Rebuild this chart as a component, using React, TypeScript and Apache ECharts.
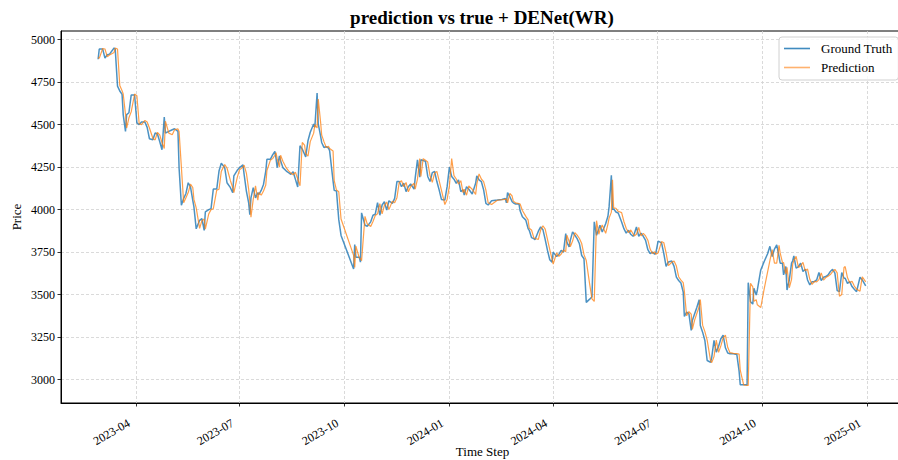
import React, { useEffect, useRef } from "react";
import * as echarts from "echarts";

const dates: string[] = [
  "2023-02-27","2023-02-28","2023-03-03","2023-03-05","2023-03-07","2023-03-09","2023-03-13","2023-03-14","2023-03-16","2023-03-18","2023-03-20","2023-03-21","2023-03-23","2023-03-24","2023-03-26","2023-03-28","2023-03-31",
  "2023-04-02","2023-04-04","2023-04-06","2023-04-09","2023-04-11","2023-04-13","2023-04-16","2023-04-18","2023-04-20","2023-04-22","2023-04-24","2023-04-26","2023-04-27","2023-04-30",
  "2023-05-03","2023-05-05","2023-05-08","2023-05-09","2023-05-11","2023-05-13","2023-05-15","2023-05-17","2023-05-19","2023-05-21","2023-05-22","2023-05-24","2023-05-27","2023-05-29","2023-05-31",
  "2023-06-01","2023-06-04","2023-06-06","2023-06-08","2023-06-11","2023-06-13","2023-06-15","2023-06-18","2023-06-20","2023-06-23","2023-06-25","2023-06-26","2023-06-29",
  "2023-07-01","2023-07-04","2023-07-05","2023-07-07","2023-07-09","2023-07-10","2023-07-11","2023-07-13","2023-07-15","2023-07-17","2023-07-18","2023-07-20","2023-07-22","2023-07-24","2023-07-25","2023-07-28","2023-07-30",
  "2023-08-01","2023-08-02","2023-08-03","2023-08-05","2023-08-06","2023-08-08","2023-08-11","2023-08-13","2023-08-15","2023-08-17","2023-08-19","2023-08-21","2023-08-23","2023-08-25","2023-08-27","2023-08-28","2023-08-30",
  "2023-09-01","2023-09-04","2023-09-05","2023-09-07","2023-09-08","2023-09-10","2023-09-11","2023-09-13","2023-09-15","2023-09-17","2023-09-18","2023-09-21","2023-09-22","2023-09-24","2023-09-26","2023-09-28",
  "2023-10-09","2023-10-10","2023-10-11","2023-10-14","2023-10-15","2023-10-16","2023-10-19","2023-10-21","2023-10-24","2023-10-26","2023-10-28","2023-10-30",
  "2023-11-01","2023-11-03","2023-11-05","2023-11-07","2023-11-09","2023-11-12","2023-11-14","2023-11-16","2023-11-18","2023-11-20","2023-11-22","2023-11-24","2023-11-26","2023-11-28",
  "2023-12-01","2023-12-02","2023-12-04","2023-12-06","2023-12-07","2023-12-09","2023-12-11","2023-12-13","2023-12-15","2023-12-17","2023-12-19","2023-12-21","2023-12-23","2023-12-25","2023-12-28","2023-12-30",
  "2024-01-01","2024-01-03","2024-01-05","2024-01-07","2024-01-09","2024-01-11","2024-01-13","2024-01-14","2024-01-16","2024-01-18","2024-01-21","2024-01-24","2024-01-25","2024-01-27","2024-01-29","2024-01-31",
  "2024-02-02","2024-02-04","2024-02-07","2024-02-12","2024-02-16","2024-02-19","2024-02-20","2024-02-21","2024-02-23","2024-02-25","2024-02-26","2024-02-28",
  "2024-03-02","2024-03-03","2024-03-05","2024-03-08","2024-03-10","2024-03-11","2024-03-13","2024-03-15","2024-03-16","2024-03-19","2024-03-21","2024-03-23","2024-03-25","2024-03-27","2024-03-29","2024-03-31",
  "2024-04-01","2024-04-04","2024-04-06","2024-04-08","2024-04-10","2024-04-12","2024-04-13","2024-04-15","2024-04-16","2024-04-18","2024-04-20","2024-04-22","2024-04-24","2024-04-26","2024-04-28","2024-04-30",
  "2024-05-03","2024-05-05","2024-05-07","2024-05-09","2024-05-11","2024-05-12","2024-05-14","2024-05-17","2024-05-19","2024-05-20","2024-05-22","2024-05-23","2024-05-24","2024-05-26","2024-05-28","2024-05-31",
  "2024-06-02","2024-06-04","2024-06-06","2024-06-08","2024-06-10","2024-06-11","2024-06-13","2024-06-15","2024-06-17","2024-06-19","2024-06-21","2024-06-23","2024-06-25","2024-06-27","2024-06-29","2024-06-30",
  "2024-07-02","2024-07-05","2024-07-07","2024-07-09","2024-07-11","2024-07-14","2024-07-16","2024-07-18","2024-07-20","2024-07-22","2024-07-24","2024-07-25","2024-07-27","2024-07-29","2024-07-31",
  "2024-08-01","2024-08-03","2024-08-05","2024-08-07","2024-08-08","2024-08-10","2024-08-12","2024-08-14","2024-08-17","2024-08-18","2024-08-20","2024-08-22","2024-08-24","2024-08-26","2024-08-28","2024-08-30",
  "2024-09-01","2024-09-03","2024-09-06","2024-09-09","2024-09-11","2024-09-12","2024-09-15","2024-09-18","2024-09-19","2024-09-21","2024-09-23","2024-09-24","2024-09-26","2024-09-27","2024-09-30",
  "2024-10-03","2024-10-06","2024-10-08","2024-10-10","2024-10-12","2024-10-14","2024-10-16","2024-10-17","2024-10-19","2024-10-20","2024-10-22","2024-10-23","2024-10-25","2024-10-27","2024-10-28","2024-10-29","2024-10-31",
  "2024-11-02","2024-11-04","2024-11-06","2024-11-08","2024-11-10","2024-11-12","2024-11-14","2024-11-16","2024-11-18","2024-11-20","2024-11-22","2024-11-24","2024-11-26","2024-11-28","2024-11-30",
  "2024-12-02","2024-12-04","2024-12-06","2024-12-08","2024-12-10","2024-12-12","2024-12-13","2024-12-15","2024-12-17","2024-12-19","2024-12-21","2024-12-23","2024-12-26","2024-12-28","2024-12-31",
];

const groundTruth: number[] = [
  4885,4945,4945,4891,4911,4915,4951,4945,4727,4698,4678,4559,4460,4559,4570,4674,4674,
  4510,4500,4516,4516,4484,4417,4411,4451,4445,4401,4352,4544,4451,4460,
  4470,4476,4460,4243,4026,4065,4095,4158,4134,4055,4016,3887,3937,3947,3878,
  3986,4000,4006,4121,4121,4227,4273,4247,4158,4129,4099,4198,4231,
  4247,4263,4208,4109,4040,3970,4069,4129,4069,4099,4089,4113,4148,4227,4296,4296,4322,
  4342,4302,4247,4316,4287,4247,4227,4217,4208,4223,4178,4133,4376,4356,4326,4310,4405,
  4455,4504,4484,4686,4504,4435,4395,4366,4370,4362,4346,4168,4113,4109,3941,3848,
  3651,3795,3720,3720,3691,3981,3908,3902,3928,3967,3973,4041,
  3967,4027,4046,3997,4052,4037,4066,4165,4165,4135,4155,4106,4135,4151,
  4120,4185,4293,4191,4293,4289,4284,4195,4165,4218,4224,4165,4116,4060,4056,4135,
  4250,4195,4179,4155,4175,4106,4116,4086,4135,4120,4092,4155,4199,4175,4165,4116,
  4037,4027,4052,4056,4060,4066,4040,4100,4076,4046,4040,4033,
  4033,3993,3958,3938,3888,3878,3835,3829,3823,3873,3898,3882,3823,3760,3705,3691,
  3750,3724,3736,3760,3750,3859,3809,3780,3819,3869,3849,3829,3799,3730,3711,3454,
  3473,3487,3928,3849,3888,3908,3868,3917,3961,4016,4202,4000,4006,3986,3980,3927,
  3888,3862,3878,3855,3843,3855,3898,3843,3862,3843,3819,3764,3741,3750,3737,3745,
  3815,3804,3741,3666,3692,3697,3666,3603,3583,3568,3515,3371,3397,3387,3289,
  3348,3387,3426,3470,3318,3279,3230,3112,3102,3131,3230,3161,3195,3240,3261,3187,
  3156,3152,3152,3148,3049,2970,2970,2970,3570,3458,3444,3537,3497,3527,3645,
  3695,3740,3784,3724,3768,3793,3724,3685,3685,3616,3665,3527,3586,3685,3699,3728,3655,
  3665,3685,3636,3649,3586,3557,3576,3576,3586,3630,3582,3602,3606,3616,3636,
  3649,3626,3523,3517,3630,3596,3596,3566,3576,3547,3531,3517,3602,3586,3551,
];

const prediction: number[] = [
  4895,4890,4948,4945,4900,4910,4925,4950,4945,4730,4700,4680,4560,4480,4540,4575,4680,
  4670,4505,4500,4525,4515,4480,4420,4410,4455,4440,4395,4360,4520,4450,
  4440,4470,4475,4460,4250,4040,4070,4100,4150,4130,4060,4010,3890,3935,3945,
  3885,3975,4000,4005,4115,4120,4225,4265,4245,4170,4130,4100,4190,
  4235,4250,4262,4215,4120,4050,3955,4060,4140,4055,4100,4085,4110,4145,4230,4290,4300,
  4320,4335,4300,4250,4320,4285,4245,4228,4215,4205,4220,4180,4140,4395,4380,4330,4315,
  4400,4450,4500,4480,4650,4520,4440,4400,4365,4372,4360,4345,4170,4115,4105,3945,
  3731,3660,3785,3715,3712,3700,3960,3915,3900,3930,3965,3975,
  4035,3975,4025,4045,4000,4050,4040,4070,4160,4170,4135,4160,4105,4135,
  4155,4120,4180,4300,4195,4300,4290,4280,4200,4160,4215,4225,4170,4115,4030,4060,
  4140,4300,4200,4180,4150,4170,4100,4120,4085,4140,4120,4090,4150,4210,4180,4165,
  4115,4040,4030,4055,4058,4060,4065,4040,4095,4080,4050,4040,
  4035,4033,3995,3960,3940,3890,3880,3835,3830,3825,3880,3905,3885,3825,3765,3708,
  3680,3745,3725,3738,3762,3752,3850,3812,3782,3815,3865,3850,3830,3800,3735,3700,
  3560,3475,3460,3935,3855,3880,3910,3860,3915,3950,3985,4175,4010,4008,3990,3982,
  3930,3890,3865,3880,3858,3845,3855,3895,3845,3860,3845,3820,3768,3742,3752,3738,
  3745,3812,3805,3745,3670,3690,3698,3668,3605,3585,3570,3520,3375,3400,3385,
  3295,3350,3390,3428,3470,3320,3282,3232,3110,3100,3135,3232,3160,3198,3245,3262,
  3190,3158,3154,3152,3150,3055,2968,2965,2965,3566,3545,3460,3470,3440,3424,
  3534,3634,3700,3764,3685,3685,3790,3745,3690,3688,3620,3660,3540,3590,3680,3700,3725,
  3660,3668,3690,3640,3650,3590,3560,3578,3575,3588,3628,3585,3600,3608,3618,
  3635,3648,3628,3490,3500,3660,3665,3600,3570,3578,3550,3532,3520,3605,3575,
];

const xTickDates: string[] = [
  "2023-04-01","2023-07-01","2023-10-01","2024-01-01",
  "2024-04-01","2024-07-01","2024-10-01","2025-01-01",
];
const yTicks: number[] = [3000, 3250, 3500, 3750, 4000, 4250, 4500, 4750, 5000];

const xMin = "2023-01-25T11:00";
const xMax = "2025-02-02T14:00";
const yMin = 2862;
const yMax = 5051;

const FONT = "'Liberation Serif', 'Times New Roman', serif";

function toTime(s: string): number {
  const [datePart, timePart] = s.split("T");
  const [y, m, d] = datePart.split("-").map(Number);
  let hh = 0;
  let mm = 0;
  if (timePart) {
    const p = timePart.split(":").map(Number);
    hh = p[0];
    mm = p[1];
  }
  return Date.UTC(y, m - 1, d, hh, mm);
}

export default function App() {
  const ref = useRef<HTMLDivElement>(null);

  useEffect(() => {
    if (!ref.current) return;
    const chart = echarts.init(ref.current, undefined, { renderer: "svg" });
    const truthData = dates.map((d, i) => [toTime(d), groundTruth[i]]);
    const predData = dates.map((d, i) => [toTime(d), prediction[i]]);
    const xTicks = xTickDates.map(toTime);

    const option: any = {
      animation: false,
      backgroundColor: "#ffffff",
      title: {
        text: "prediction vs true + DENet(WR)",
        left: 482,
        top: 8,
        textAlign: "center",
        padding: 0,
        textStyle: {
          fontFamily: FONT,
          fontSize: 19,
          fontWeight: "bold",
          color: "#000000",
        },
      },
      legend: {
        orient: "vertical",
        left: 779,
        top: 37,
        padding: [4, 6, 5, 5],
        itemGap: 4,
        itemWidth: 26,
        itemHeight: 1.6,
        icon: "rect",
        borderColor: "#d0d0d0",
        borderWidth: 1,
        borderRadius: 3,
        backgroundColor: "rgba(255,255,255,0.8)",
        textStyle: {
          fontFamily: FONT,
          fontSize: 13,
          lineHeight: 15,
          color: "#000000",
          padding: [0, 0, 0, 6],
        },
        data: [
          { name: "Ground Truth", itemStyle: { color: "rgba(31,119,180,0.85)" } },
          { name: "Prediction", itemStyle: { color: "rgba(255,127,14,0.6)" } },
        ],
      },
      grid: {
        left: 61,
        right: -6,
        top: 31,
        bottom: 57,
        outerBoundsMode: "none",
        containLabel: false,
        show: true,
        borderColor: "#000000",
        borderWidth: 1,
        backgroundColor: "transparent",
      },
      xAxis: {
        type: "value",
        min: toTime(xMin),
        max: toTime(xMax),
        name: "Time Step",
        nameLocation: "middle",
        nameGap: 42,
        nameMoveOverlap: false,
        nameTextStyle: { fontFamily: FONT, fontSize: 13, color: "#000000" },
        axisLine: { show: true, lineStyle: { color: "#000000", width: 1 } },
        axisTick: {
          show: true,
          length: 3.5,
          lineStyle: { color: "#000000", width: 0.8 },
          customValues: xTicks,
        },
        axisLabel: {
          customValues: xTicks,
          rotate: 30,
          margin: 15,
          padding: [0, 8, 0, 0],
          fontFamily: FONT,
          fontSize: 12,
          color: "#000000",
          hideOverlap: false,
          formatter: (v: number) => {
            const d = new Date(v);
            return d.getUTCFullYear() + "-" + String(d.getUTCMonth() + 1).padStart(2, "0");
          },
        },
        splitLine: {
          show: true,
          lineStyle: { color: "#d0d0d0", width: 0.8, type: [3, 2] },
        },
      },
      yAxis: {
        type: "value",
        min: yMin,
        max: yMax,
        name: "Price",
        nameLocation: "middle",
        nameGap: 38,
        nameMoveOverlap: false,
        nameRotate: 90,
        nameTextStyle: { fontFamily: FONT, fontSize: 13, color: "#000000" },
        axisLine: { show: true, lineStyle: { color: "#000000", width: 1 } },
        axisTick: {
          show: true,
          length: 3.5,
          lineStyle: { color: "#000000", width: 0.8 },
          customValues: yTicks,
        },
        axisLabel: {
          customValues: yTicks,
          margin: 6,
          fontFamily: FONT,
          fontSize: 12,
          color: "#000000",
          formatter: (v: number) => String(v),
        },
        splitLine: {
          show: true,
          lineStyle: { color: "#d0d0d0", width: 0.8, type: [3, 2] },
        },
      },
      series: [
        {
          name: "Ground Truth",
          type: "line",
          data: truthData,
          symbol: "none",
          showSymbol: false,
          color: "#1f77b4",
          lineStyle: { color: "#1f77b4", width: 1.5, opacity: 0.8 },
          z: 2,
        },
        {
          name: "Prediction",
          type: "line",
          data: predData,
          symbol: "none",
          showSymbol: false,
          color: "#ff7f0e",
          lineStyle: { color: "#ff7f0e", width: 1.2, opacity: 0.75 },
          z: 3,
        },
      ],
    };
    chart.setOption(option);
    return () => chart.dispose();
  }, []);

  return (
    <div
      ref={ref}
      style={{ position: "absolute", left: 0, top: 0, width: 898, height: 460, background: "#fff" }}
    />
  );
}
